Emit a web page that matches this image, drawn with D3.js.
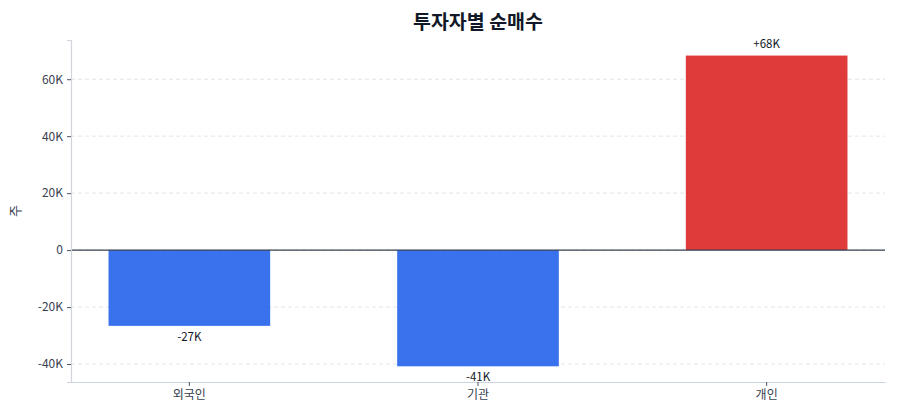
<!DOCTYPE html>
<html>
<head>
<meta charset="utf-8">
<script src="https://cdn.jsdelivr.net/npm/d3@7"></script>
<style>
  body { margin: 0; background: #fff; }
  text { font-family: "Noto Sans CJK KR", "Noto Sans", sans-serif; }
</style>
</head>
<body>
<div id="chart"></div>
<script>
// 투자자별 순매수 데이터
const investors = ['외국인', '기관', '개인'];
const netBuy = [-26600, -40800, 68300];
const yTicks = [-40000, -20000, 0, 20000, 40000, 60000];

const width = 900, height = 420;
const margin = { top: 40, right: 15, bottom: 38, left: 71 };
const innerW = width - margin.left - margin.right;
const innerH = height - margin.top - margin.bottom;

const svg = d3.select('#chart').append('svg')
    .attr('width', width)
    .attr('height', height);

const g = svg.append('g')
    .attr('transform', `translate(${margin.left},${margin.top})`);

const x = d3.scaleBand()
    .domain(investors)
    .range([0, innerW])
    .paddingInner(0.44)
    .paddingOuter(0.13);

// 위아래 여유 공간
const yMin = d3.min(netBuy) * 1.135;
const yMax = d3.max(netBuy) * 1.08;
const y = d3.scaleLinear()
    .domain([yMin, yMax])
    .range([innerH, 0]);

const fmtK = v => v === 0 ? '0' : `${v / 1000}K`;

// 그리드
g.append('g')
    .selectAll('line')
    .data(yTicks)
    .join('line')
    .attr('x1', 0)
    .attr('x2', innerW)
    .attr('y1', d => y(d))
    .attr('y2', d => y(d))
    .attr('stroke', '#e2e5ea')
    .attr('stroke-dasharray', '4,3')
    .attr('stroke-width', 1);

// 막대
g.selectAll('.bar')
    .data(investors)
    .join('rect')
    .attr('class', 'bar')
    .attr('x', d => x(d))
    .attr('width', x.bandwidth())
    .attr('y', (d, i) => y(Math.max(0, netBuy[i])))
    .attr('height', (d, i) => Math.abs(y(netBuy[i]) - y(0)))
    .attr('fill', (d, i) => netBuy[i] >= 0 ? '#dc2626' : '#2563eb')
    .attr('fill-opacity', 0.9);

// 0 기준선
g.append('line')
    .attr('x1', 0)
    .attr('x2', innerW)
    .attr('y1', y(0))
    .attr('y2', y(0))
    .attr('stroke', '#374151')
    .attr('stroke-width', 1.2);

// 값 라벨
g.selectAll('.val')
    .data(investors)
    .join('text')
    .attr('class', 'val')
    .attr('x', d => x(d) + x.bandwidth() / 2)
    .attr('y', (d, i) => netBuy[i] >= 0 ? y(netBuy[i]) - 8 : y(netBuy[i]) + 15)
    .attr('text-anchor', 'middle')
    .attr('font-size', 11.5)
    .attr('fill', '#111827')
    .text((d, i) => {
        const k = Math.round(Math.abs(netBuy[i]) / 1000);
        return (netBuy[i] >= 0 ? '+' : '-') + k + 'K';
    });

// Y축
const yAxis = g.append('g')
    .call(d3.axisLeft(y).tickValues(yTicks).tickFormat(fmtK).tickSize(4).tickPadding(4));
yAxis.select('.domain').attr('stroke', '#d1d5db').attr('stroke-width', 1.2);
yAxis.selectAll('.tick line').attr('stroke', '#4b5563');
yAxis.selectAll('.tick text').attr('font-size', 12).attr('fill', '#374151');

// X축
const xAxis = g.append('g')
    .attr('transform', `translate(0,${innerH})`)
    .call(d3.axisBottom(x).tickSize(4).tickPadding(4).tickSizeOuter(0));
xAxis.select('.domain').attr('stroke', '#cbd5e1').attr('stroke-width', 1.2);
xAxis.selectAll('.tick line').attr('stroke', '#4b5563');
xAxis.selectAll('.tick text').attr('font-size', 12).attr('fill', '#374151');

// 축 제목
svg.append('text')
    .attr('transform', `translate(20,${margin.top + innerH / 2}) rotate(-90)`)
    .attr('text-anchor', 'middle')
    .attr('font-size', 13)
    .attr('fill', '#374151')
    .text('주');

// 차트 제목
svg.append('text')
    .attr('x', margin.left + innerW / 2)
    .attr('y', 29)
    .attr('text-anchor', 'middle')
    .attr('font-size', 19.5)
    .attr('font-weight', 'bold')
    .attr('fill', '#111827')
    .text('투자자별 순매수');
</script>
</body>
</html>
